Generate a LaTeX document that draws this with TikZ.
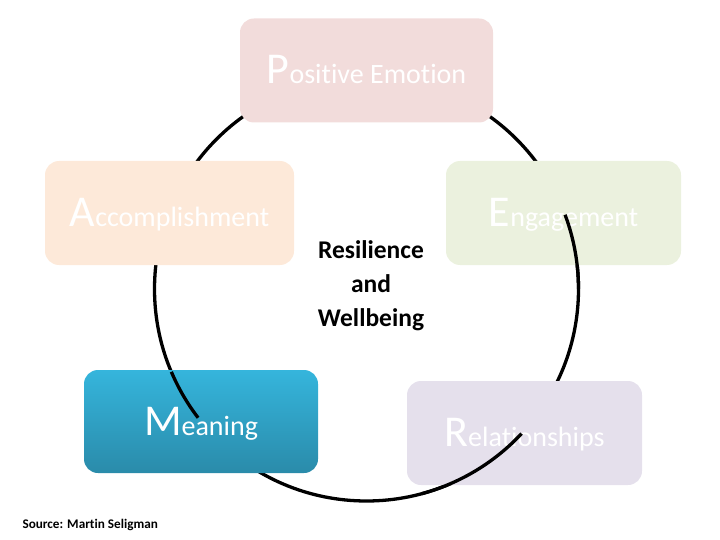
\documentclass[tikz,border=0pt]{standalone}
\usepackage{fontspec}
\setmainfont{Carlito}[RawFeature={-liga;-clig;-dlig}]
\definecolor{pecol}{HTML}{F2DCDB}
\definecolor{accol}{HTML}{FDE9D9}
\definecolor{encol}{HTML}{EBF1DE}
\definecolor{recol}{HTML}{E5E0EC}
\definecolor{metop}{HTML}{35B5DC}
\definecolor{mebot}{HTML}{2A8BAA}
\newcommand{\bigfirst}[2]{{\fontsize{44}{44}\selectfont #1}{\fontsize{28}{28}\selectfont #2}}
\begin{document}
\begin{tikzpicture}[x=1pt,y=-1pt,
  box/.style={rounded corners=14pt, minimum width=#1, minimum height=104pt, inner sep=0pt,
    text=white, text height=27pt, text depth=0pt, align=center},
  ring/.style={line width=3.3pt, black}]
\useasboundingbox (0,0) rectangle (720,540);
\coordinate (C) at (366.5,289);
\draw[ring] (C) circle [radius=212];
\node[box=253pt, fill=pecol] (pe) at (366.5,70.5) {\bigfirst{P}{ositive Emotion}};
\node[box=249pt, fill=accol] (ac) at (169.5,213) {\bigfirst{A}{ccomplishment}};
\node[box=235pt, fill=encol] (en) at (563.5,213) {\bigfirst{E}{ngagement}};
\node[box=234pt, top color=metop, bottom color=mebot, minimum height=103pt] (me) at (201,421.5) {\bigfirst{M}{eaning}};
\node[box=235pt, fill=recol] (re) at (524.5,433) {\bigfirst{R}{elationships}};
% segments of the ring that lie over the boxes
\draw[ring] ([shift={(-20.5:212)}]C) arc [start angle=-20.5, end angle=0, radius=212];
\draw[ring] ([shift={(43:212)}]C) arc [start angle=43, end angle=75, radius=212];
\draw[ring] ([shift={(157:212)}]C) arc [start angle=157, end angle=142.6, radius=212];
\node[font=\bfseries\fontsize{25.5}{34}\selectfont, align=center] (rw) at (371,286) {Resilience\\and\\Wellbeing};
\node[font=\bfseries\fontsize{13.2}{13}\selectfont, anchor=base west] (src) at (19,528) {Source: Martin Seligman};
\end{tikzpicture}
\end{document}
